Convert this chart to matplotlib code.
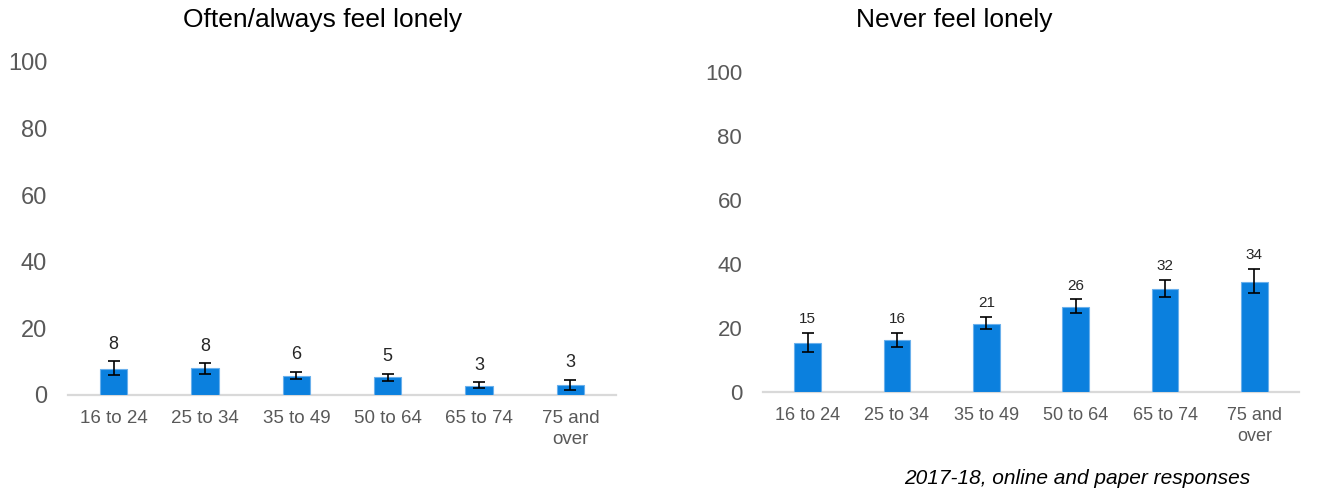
import matplotlib
matplotlib.use("Agg")
import matplotlib.pyplot as plt
import numpy as np

plt.rcParams["font.family"] = ["Liberation Sans", "DejaVu Sans"]

age_groups = ["16 to 24", "25 to 34", "35 to 49", "50 to 64", "65 to 74", "75 and\nover"]

often_values = [7.7, 8.0, 5.8, 5.3, 2.7, 2.9]
often_lower = [5.9, 6.4, 4.7, 4.3, 2.0, 1.4]
often_upper = [10.1, 9.6, 7.0, 6.4, 3.8, 4.6]

never_values = [15.3, 16.1, 21.3, 26.4, 32.2, 34.4]
never_lower = [12.5, 14.1, 19.6, 24.6, 29.6, 30.8]
never_upper = [18.4, 18.5, 23.4, 28.9, 35.0, 38.4]

y_ticks = [0, 20, 40, 60, 80, 100]

BAR_COLOR = "#0B80DE"
EDGE_COLOR = "#6AB0EC"
GREY_TEXT = "#595959"
AXIS_LINE = "#D9D9D9"

fig = plt.figure(figsize=(13.18, 4.92), dpi=100)
ax_left = fig.add_axes([0.0516, 0.1972, 0.4158, 0.6768])
ax_right = fig.add_axes([0.5789, 0.2033, 0.4067, 0.6504])


def draw_panel(ax, values, lower, upper, cat_size, tick_size, label_size, label_offset):
    x = np.arange(len(age_groups))
    vals = np.array(values)
    lo = np.array(lower)
    hi = np.array(upper)
    ax.bar(x, vals, width=0.3, color=BAR_COLOR, edgecolor=EDGE_COLOR,
           linewidth=0.8, zorder=2)
    ax.errorbar(x, vals, yerr=[vals - lo, hi - vals], fmt="none",
                ecolor="black", elinewidth=1.2, capsize=4.2, capthick=1.2,
                zorder=3)
    for xi, v, h in zip(x, vals, hi):
        ax.annotate(f"{v:.0f}", (xi, h), xytext=(0, label_offset),
                    textcoords="offset points", ha="center", va="bottom",
                    fontsize=label_size, color="#262626")
    ax.set_xlim(-0.5, len(age_groups) - 0.5)
    ax.set_ylim(0, 100)
    ax.set_yticks(y_ticks)
    ax.set_xticks(x)
    ax.set_xticklabels(age_groups, fontsize=cat_size, color=GREY_TEXT,
                       linespacing=1.25)
    ax.tick_params(axis="y", length=0, pad=15, labelsize=tick_size,
                   labelcolor=GREY_TEXT)
    ax.tick_params(axis="x", length=0, pad=11)
    for side in ("top", "right", "left"):
        ax.spines[side].set_visible(False)
    ax.spines["bottom"].set_color(AXIS_LINE)
    ax.spines["bottom"].set_linewidth(1.6)
    ax.spines["bottom"].set_zorder(1)
    ax.patch.set_alpha(0)


draw_panel(ax_left, often_values, often_lower, often_upper,
           cat_size=13.5, tick_size=17, label_size=13, label_offset=6)
draw_panel(ax_right, never_values, never_lower, never_upper,
           cat_size=13, tick_size=16, label_size=11, label_offset=5)

fig.text(323 / 1318, 1 - 20 / 492, "Often/always feel lonely", ha="center",
         va="center", fontsize=19, color="black")
fig.text(954 / 1318, 1 - 20 / 492, "Never feel lonely", ha="center",
         va="center", fontsize=19, color="black")
fig.text(1250 / 1318, 1 - 479 / 492, "2017-18, online and paper responses",
         ha="right", va="center", fontsize=15, style="italic", color="black")

fig.savefig("out.png", dpi=100)
